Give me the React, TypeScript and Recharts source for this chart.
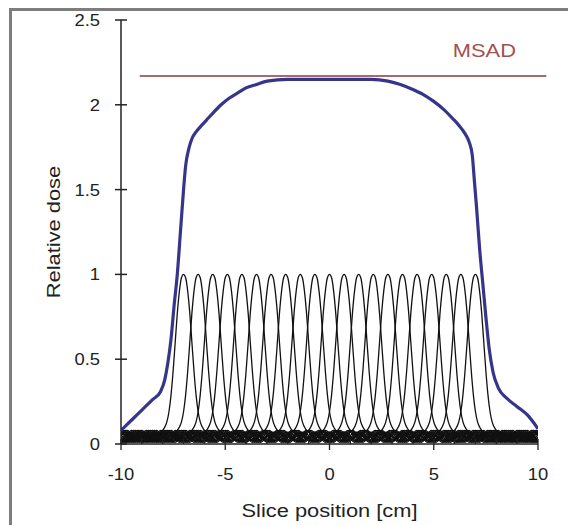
import { LineChart, Line, XAxis, YAxis, ReferenceLine } from "recharts";

// axis ticks
const xTicks = [-10, -9, -8, -7, -6, -5, -4, -3, -2, -1, 0, 1, 2, 3, 4, 5, 6, 7, 8, 9, 10];
const xLabelled = [-10, -5, 0, 5, 10];
const yTicks = [0, 0.5, 1, 1.5, 2, 2.5];

// centres of the single slice profiles [cm]
const sliceCenters = [
  -7, -6.3, -5.6, -4.9, -4.2, -3.5, -2.8, -2.1, -1.4, -0.7, 0, 0.7, 1.4, 2.1, 2.8, 3.5, 4.2, 4.9,
  5.6, 6.3, 7,
];

// one slice profile (offset from centre -> relative dose)
const profileOffsets = [
  -1.2, -1.1, -1.0, -0.9, -0.8, -0.7, -0.6, -0.5, -0.4, -0.3, -0.2, -0.1, 0, 0.1, 0.2, 0.3, 0.4,
  0.5, 0.6, 0.7, 0.8, 0.9, 1.0, 1.1, 1.2,
];
const profileValues = [
  0.06, 0.07, 0.08, 0.1, 0.13, 0.19, 0.29, 0.43, 0.6, 0.77, 0.9, 0.98, 1.0, 0.98, 0.9, 0.77,
  0.6, 0.43, 0.29, 0.19, 0.13, 0.1, 0.08, 0.07, 0.06,
];
// scatter tail of the profile (same on both sides)
const tailOffsets = [
  1.5, 2, 2.5, 3, 3.5, 4, 4.5, 5, 5.5, 6, 6.5, 7, 7.5, 8, 8.5, 9, 9.5, 10, 10.5, 11, 11.5, 12,
  12.5, 13, 13.5, 14, 14.5, 15, 15.5, 16, 16.5, 17,
];
const tailValues = [
  0.05, 0.02, 0.08, 0.01, 0.07, 0.02, 0.08, 0.01, 0.07, 0.03, 0.08, 0.01, 0.07, 0.02, 0.08, 0.01,
  0.07, 0.02, 0.08, 0.01, 0.06, 0.02, 0.08, 0.01, 0.07, 0.02, 0.07, 0.01, 0.06, 0.02, 0.06, 0.01,
];

// summed dose profile (blue)
const totalX = [
  -10, -9.5, -9, -8.5, -8.1, -7.9, -7.75, -7.6, -7.45, -7.3, -7.15, -7.0, -6.9, -6.75, -6.6, -6.4,
  -6.2, -5.9, -5.6, -5.2, -4.8, -4.4, -4.0, -3.5, -3.0, -2, 0, 2, 2.8, 3.4, 4.0, 4.5, 5.0, 5.5,
  5.9, 6.2, 6.5, 6.7, 6.85, 6.95, 7.05, 7.2, 7.35, 7.5, 7.65, 7.85, 8.1, 8.5, 9.0, 9.5, 10,
];
const totalY = [
  0.08, 0.14, 0.2, 0.26, 0.31, 0.38, 0.48, 0.62, 0.82, 1.0, 1.25, 1.5, 1.64, 1.74, 1.8, 1.84,
  1.87, 1.91, 1.95, 2.0, 2.04, 2.07, 2.1, 2.12, 2.14, 2.15, 2.15, 2.15, 2.14, 2.12, 2.09, 2.06,
  2.02, 1.97, 1.92, 1.88, 1.83, 1.78, 1.7, 1.55, 1.4, 1.15, 0.95, 0.75, 0.57, 0.42, 0.33, 0.27,
  0.22, 0.17, 0.09,
];

const msadValue = 2.17;
const msadFrom = -9.1;
const msadTo = 10.4;

const FONT = "'Liberation Sans', Arial, sans-serif";
const TEXT = "#222";

const totalData = totalX.map((x, i) => ({ x, y: totalY[i] }));

const sliceData = sliceCenters.map((c) => {
  const left = tailOffsets
    .map((o, i) => ({ o: -o, v: tailValues[i] }))
    .reverse();
  const core = profileOffsets.map((o, i) => ({ o, v: profileValues[i] }));
  const right = tailOffsets.map((o, i) => ({ o, v: tailValues[i] }));
  return [...left, ...core, ...right]
    .map((p) => ({ x: Math.round((c + p.o) * 100) / 100, y: p.v }))
    .filter((p) => p.x >= -10.6 && p.x <= 10.6);
});

// the original text is slightly stretched horizontally
function SText({ x, y, size, anchor = "middle", fill = TEXT, rotate = 0, children }: any) {
  return (
    <text
      transform={`translate(${x},${y}) rotate(${rotate}) scale(1.15,1)`}
      textAnchor={anchor}
      fontSize={size}
      fontFamily={FONT}
      fill={fill}
    >
      {children}
    </text>
  );
}

function YTick({ x, y, payload }: any) {
  return (
    <g>
      <line x1={x - 6} x2={x + 6} y1={y} y2={y} stroke="#222" strokeWidth={1.5} />
      <SText x={x - 21} y={y + 6} size={16} anchor="end">
        {String(payload.value)}
      </SText>
    </g>
  );
}

function XTick({ x, y, payload }: any) {
  const major = xLabelled.includes(payload.value);
  return (
    <g>
      <line x1={x} x2={x} y1={y - 5} y2={major ? y + 6 : y} stroke="#222" strokeWidth={1.3} />
      {major && (
        <SText x={x} y={y + 36} size={16}>
          {String(payload.value)}
        </SText>
      )}
    </g>
  );
}

function MsadLabel({ viewBox }: any) {
  const x2 = viewBox ? viewBox.x + viewBox.width : 547;
  const y = viewBox ? viewBox.y : 76;
  return (
    <SText x={x2 - 62} y={y - 19} size={19} fill="#a3504e">
      MSAD
    </SText>
  );
}

export default function App() {
  return (
    <div
      style={{
        position: "relative",
        width: 576,
        height: 525,
        margin: "-8px 0 0 -8px",
        overflow: "hidden",
        background: "#fff",
      }}
    >
      <div
        style={{
          position: "absolute",
          left: 9,
          top: 8,
          width: 600,
          height: 600,
          borderTop: "3px solid #7d7d7d",
          borderLeft: "3px solid #7d7d7d",
        }}
      />
      <div style={{ position: "absolute", left: 0, top: 0 }}>
        <LineChart width={576} height={525} margin={{ top: 20, right: 38, left: 0, bottom: 0 }}>
          <XAxis
            type="number"
            dataKey="x"
            domain={[-10, 10]}
            allowDataOverflow
            ticks={xTicks}
            interval={0}
            height={81}
            tickSize={0}
            tickMargin={0}
            tick={<XTick />}
            axisLine={{ stroke: "#222", strokeWidth: 1.5 }}
            label={{
              content: ({ viewBox }: any) => (
                <SText x={viewBox.x + viewBox.width / 2} y={viewBox.y + 73} size={19}>
                  Slice position [cm]
                </SText>
              ),
            }}
          />
          <YAxis
            type="number"
            dataKey="y"
            domain={[0, 2.5]}
            ticks={yTicks}
            interval={0}
            width={121}
            tickSize={0}
            tickMargin={0}
            tick={<YTick />}
            axisLine={{ stroke: "#222", strokeWidth: 1.5 }}
            label={{
              content: ({ viewBox }: any) => (
                <SText x={60} y={viewBox.y + viewBox.height / 2} size={19} rotate={-90}>
                  Relative dose
                </SText>
              ),
            }}
          />
          {sliceData.map((d, i) => (
            <Line
              key={i}
              data={d}
              dataKey="y"
              type="monotone"
              stroke="#111"
              strokeWidth={1.3}
              dot={false}
              activeDot={false}
              isAnimationActive={false}
            />
          ))}
          <Line
            data={totalData}
            dataKey="y"
            type="monotone"
            stroke="#35358a"
            strokeWidth={3.2}
            dot={false}
            activeDot={false}
            isAnimationActive={false}
          />
          <ReferenceLine
            segment={[
              { x: msadFrom, y: msadValue },
              { x: msadTo, y: msadValue },
            ]}
            ifOverflow="visible"
            stroke="#8b3a3a"
            strokeWidth={1.5}
            label={<MsadLabel />}
          />
        </LineChart>
      </div>
    </div>
  );
}
